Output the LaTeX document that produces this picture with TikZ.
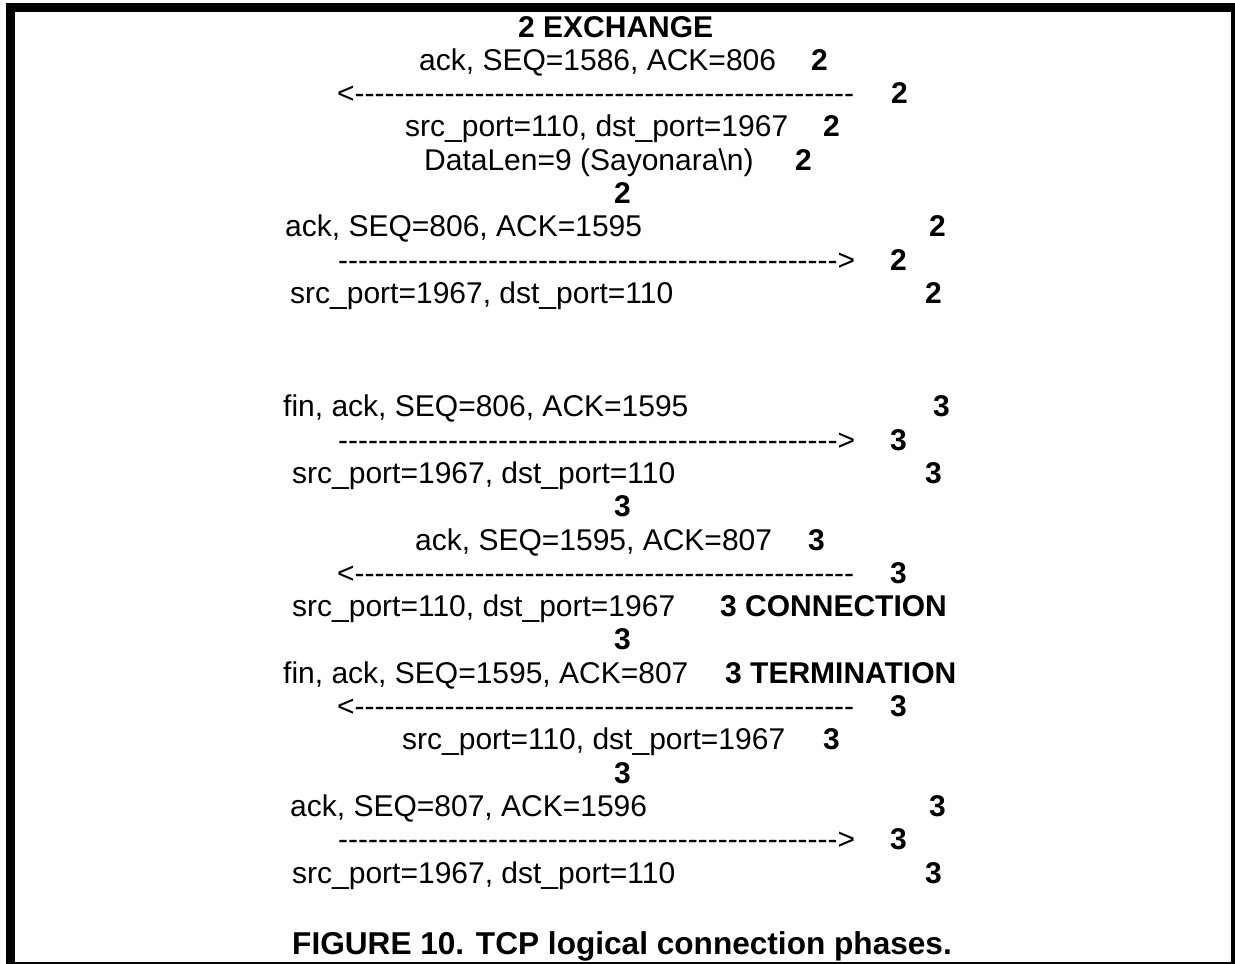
\documentclass[tikz,border=0pt]{standalone}
\usepackage{fontspec}
\newfontfamily\arial{Liberation Sans}
% ASCII arrows built from plain hyphens
\newcommand\tenhy{----------}
\newcommand\leftarr{<\tenhy\tenhy\tenhy\tenhy\tenhy}
\newcommand\rightarr{\tenhy\tenhy\tenhy\tenhy---------->}
% baselines: upper block counted from the top, lower block from its last line
\newcommand\ly[1]{37+33.3*#1}
\newcommand\lz[1]{883-33.3*(26-#1)}
\tikzset{
  txt/.style={anchor=base west, inner sep=0pt, font=\arial\fontsize{30}{36}\selectfont},
  num/.style={txt, font=\arial\bfseries\fontsize{30}{36}\selectfont},
  captxt/.style={txt, font=\arial\bfseries\fontsize{31.6}{38}\selectfont},
  frame/.style={draw=black, line width=9pt}
}
\begin{document}
\begin{tikzpicture}[x=1pt,y=-1pt]
\useasboundingbox (0,0) rectangle (1235,964);
\clip (0,0) rectangle (1235,964);
\fill[white] (0,0) rectangle (1235,964);
\draw[frame] (10,7) rectangle (1235,966);

% data exchange phase
\node[num] (t0) at (518,{\ly{0}}) {2 EXCHANGE};
\node[txt] (m1) at (419,{\ly{1}}) {ack, SEQ=1586, ACK=806};
\node[num] (n1) at (811,{\ly{1}}) {2};
\node[txt] (m2) at (337,{\ly{2}}) {\leftarr};
\node[num] (n2) at (891,{\ly{2}}) {2};
\node[txt] (m3) at (405,{\ly{3}}) {src\_port=110, dst\_port=1967};
\node[num] (n3) at (823,{\ly{3}}) {2};
\node[txt] (m4) at (424,{\ly{4}}) {DataLen=9 (Sayonara\textbackslash n)};
\node[num] (n4) at (795,{\ly{4}}) {2};
\node[num] (n5) at (614,{\ly{5}}) {2};
\node[txt] (m6) at (285,{\ly{6}}) {ack, SEQ=806, ACK=1595};
\node[num] (n6) at (929,{\ly{6}}) {2};
\node[txt] (m7) at (338,{\ly{7}}) {\rightarr};
\node[num] (n7) at (890,{\ly{7}}) {2};
\node[txt] (m8) at (290,{\ly{8}}) {src\_port=1967, dst\_port=110};
\node[num] (n8) at (925,{\ly{8}}) {2};

% connection termination phase
\node[txt] (m12) at (283,{\lz{12}}) {fin, ack, SEQ=806, ACK=1595};
\node[num] (n12) at (933,{\lz{12}}) {3};
\node[txt] (m13) at (338,{\lz{13}}) {\rightarr};
\node[num] (n13) at (890,{\lz{13}}) {3};
\node[txt] (m14) at (292,{\lz{14}}) {src\_port=1967, dst\_port=110};
\node[num] (n14) at (925,{\lz{14}}) {3};
\node[num] (n15) at (614,{\lz{15}}) {3};
\node[txt] (m16) at (415,{\lz{16}}) {ack, SEQ=1595, ACK=807};
\node[num] (n16) at (808,{\lz{16}}) {3};
\node[txt] (m17) at (337,{\lz{17}}) {\leftarr};
\node[num] (n17) at (890,{\lz{17}}) {3};
\node[txt] (m18) at (292,{\lz{18}}) {src\_port=110, dst\_port=1967};
\node[num] (n18) at (720,{\lz{18}}) {3 CONNECTION};
\node[num] (n19) at (614,{\lz{19}}) {3};
\node[txt] (m20) at (283,{\lz{20}}) {fin, ack, SEQ=1595, ACK=807};
\node[num] (n20) at (725,{\lz{20}}) {3 TERMINATION};
\node[txt] (m21) at (337,{\lz{21}}) {\leftarr};
\node[num] (n21) at (890,{\lz{21}}) {3};
\node[txt] (m22) at (402,{\lz{22}}) {src\_port=110, dst\_port=1967};
\node[num] (n22) at (823,{\lz{22}}) {3};
\node[num] (n23) at (614,{\lz{23}}) {3};
\node[txt] (m24) at (290,{\lz{24}}) {ack, SEQ=807, ACK=1596};
\node[num] (n24) at (929,{\lz{24}}) {3};
\node[txt] (m25) at (338,{\lz{25}}) {\rightarr};
\node[num] (n25) at (890,{\lz{25}}) {3};
\node[txt] (m26) at (292,{\lz{26}}) {src\_port=1967, dst\_port=110};
\node[num] (n26) at (925,{\lz{26}}) {3};

% caption
\node[captxt] (cap) at (292,954) {FIGURE 10. TCP logical connection phases.};
\end{tikzpicture}
\end{document}
